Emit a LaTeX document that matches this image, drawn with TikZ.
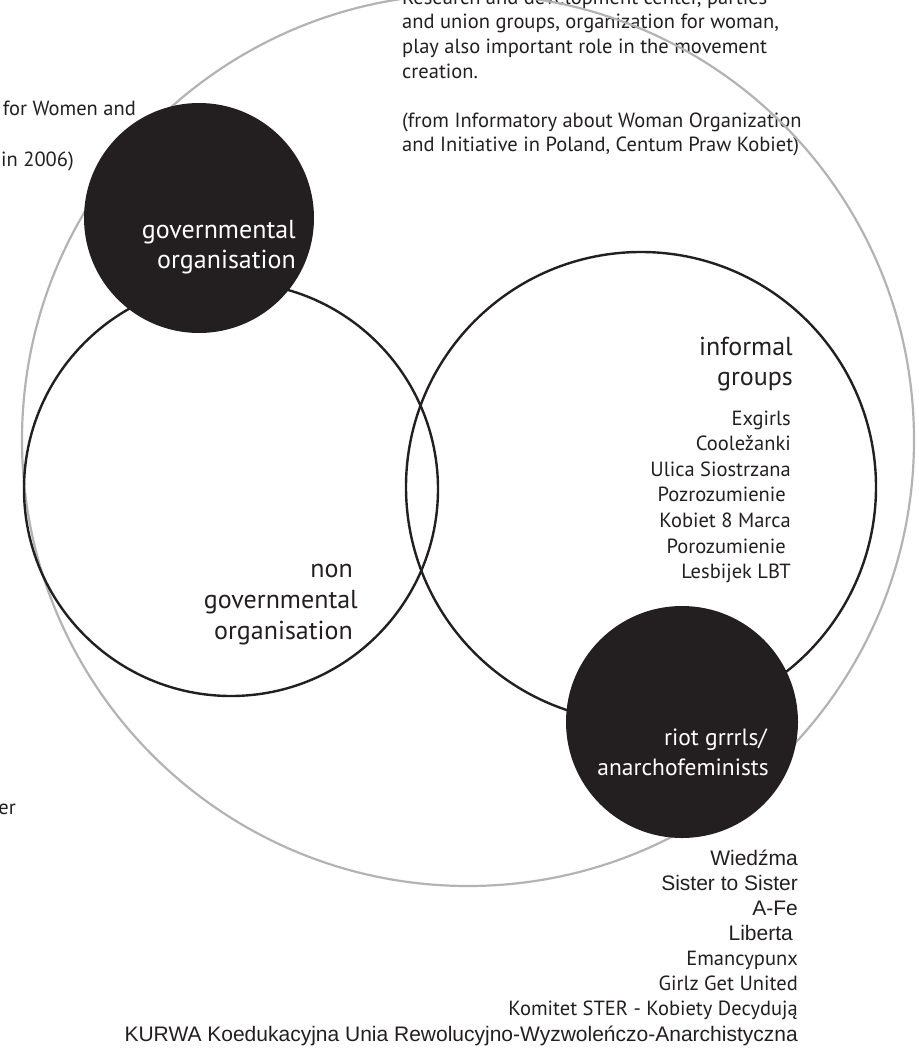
\documentclass[tikz,border=0pt]{standalone}
\usepackage{fontspec}
\setmainfont{PT Sans}
\newfontfamily\myr{PT Sans}
\newfontfamily\ari{Liberation Sans}
\definecolor{ink}{HTML}{231F20}
\definecolor{ring}{HTML}{B3B3B3}
\tikzset{
  note/.style={inner sep=0pt, text=ink, font=\myr\fontsize{20.5}{24}\selectfont},
  item/.style={inner sep=0pt, text=ink, font=\myr\fontsize{20.5}{24}\selectfont},
  aitem/.style={inner sep=0pt, text=ink, font=\ari\fontsize{21}{24}\selectfont},
  big/.style={inner sep=0pt, text=ink, font=\myr\fontsize{26}{30}\selectfont},
  bigw/.style={big, text=white},
  riotw/.style={inner sep=0pt, text=white, font=\myr\fontsize{23.5}{28}\selectfont},
  ringc/.style={draw=ring, line width=2.2pt},
  setc/.style={draw=ink, line width=2.4pt},
  blob/.style={fill=ink, draw=none},
}
\begin{document}
\begin{tikzpicture}[x=1pt,y=-1pt]
\useasboundingbox (0,0) rectangle (918,1049);
% top-right note
\node[note, anchor=base west] (n0) at (402,4.5) {Research and development center, parties};
\node[note, anchor=base west] (n1) at (402,29) {and union groups, organization for woman,};
\node[note, anchor=base west] (n2) at (402,53.5) {play also important role in the movement};
\node[note, anchor=base west] (n3) at (402,78) {creation.};
\node[note, anchor=base west] (n4) at (402,127) {(from Informatory about Woman Organization};
\node[note, anchor=base west] (n5) at (402,151.5) {and Initiative in Poland, Centum Praw Kobiet)};
% left fragments
\node[note, anchor=base east] (l0) at (136,115) {for Women and};
\node[note, anchor=base east] (l1) at (74,166) {in 2006)};
\node[note, anchor=base east] (l2) at (16,814) {er};
% big grey ring
\draw[ringc] (468,440) circle (446);
% set circles
\draw[setc] (231,489) circle (207);
\draw[setc] (641,487) circle (235);
% black discs
\fill[blob] (199,218) circle (115);
\fill[blob] (682,722) circle (116);
% labels
\node[bigw, anchor=base east] (g0) at (296,238) {governmental};
\node[bigw, anchor=base east] (g1) at (296,268) {organisation};
\node[big, anchor=base east] (ng0) at (358,577) {non\kern5pt};
\node[big, anchor=base east] (ng1) at (358,608) {governmental};
\node[big, anchor=base east] (ng2) at (358,639) {organisation\kern5pt};
\node[big, anchor=base east] (ig0) at (793,355) {informal};
\node[big, anchor=base east] (ig1) at (793,385) {groups};
\node[riotw, anchor=base east] (r0) at (767,745) {riot grrrls/};
\node[riotw, anchor=base east] (r1) at (769,775) {anarchofeminists};
% informal group items
\foreach \t [count=\i from 0] in {Exgirls, Cooležanki, Ulica Siostrzana, Pozrozumienie\kern5pt,
  Kobiet 8 Marca, Porozumienie\kern5pt, Lesbijek LBT}
  \node[item, anchor=base east] (inf\i) at (791,425+25.6*\i) {\t};
% bottom list
\node[aitem, anchor=base east] (b0) at (798,865) {Wiedźma};
\node[aitem, anchor=base east] (b1) at (798,890) {Sister to Sister};
\node[aitem, anchor=base east] (b2) at (798,915) {A-Fe};
\node[aitem, anchor=base east] (b3) at (798,940) {Liberta\kern5pt};
\node[item, anchor=base east] (b4) at (798,965) {Emancypunx};
\node[item, anchor=base east] (b5) at (798,990) {Girlz Get United};
\node[item, anchor=base east] (b6) at (798,1015) {Komitet STER - Kobiety Decydują};
\node[aitem, anchor=base east] (b7) at (798,1041) {KURWA Koedukacyjna Unia Rewolucyjno-Wyzwoleńczo-Anarchistyczna};
\end{tikzpicture}
\end{document}
